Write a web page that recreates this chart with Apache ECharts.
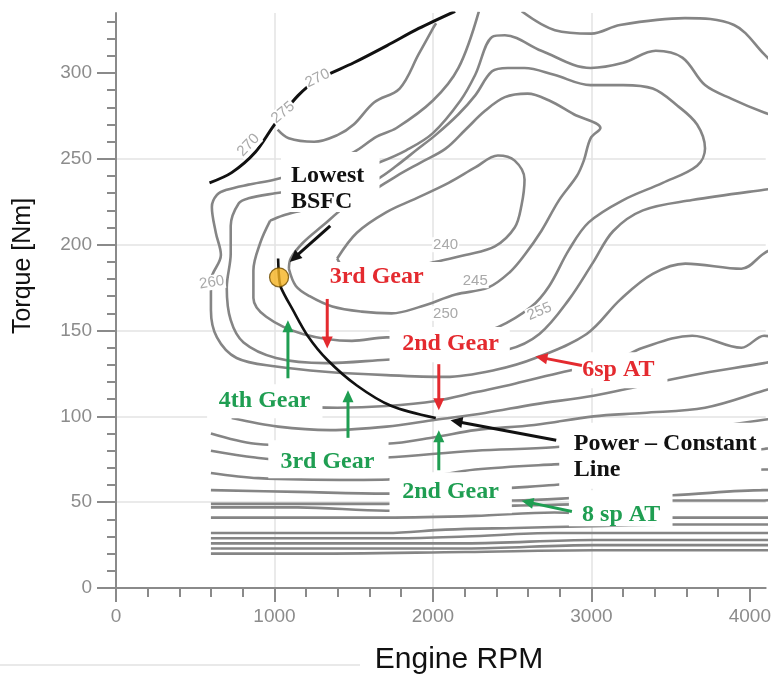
<!DOCTYPE html>
<html><head><meta charset="utf-8">
<script src="https://cdn.jsdelivr.net/npm/echarts@6/dist/echarts.min.js"></script>
<style>html,body{margin:0;padding:0;background:#fff}#c{width:774px;height:677px}</style>
</head><body><div id="c"></div>
<script>
// ---- axis ticks ----
const rpmTicks = [0, 1000, 2000, 3000, 4000];
const rpmMinorTicks = [0,200,400,600,800,1000,1200,1400,1600,1800,2000,2200,2400,2600,2800,3000,3200,3400,3600,3800,4000];
const torqueTicks = [0, 50, 100, 150, 200, 250, 300];
const torqueMinorTicks = [0,10,20,30,40,50,60,70,80,90,100,110,120,130,140,150,160,170,180,190,200,210,220,230,240,250,260,270,280,290,300,310,320,330];

// ---- full load (WOT) curve [rpm, Nm] ----
const fullLoadCurve = [[590,236],[730,242],[880,254],[1000,270],[1150,287],[1270,296],[1500,306],[1710,316],[1910,326],[2140,336]];

// ---- BSFC iso-lines [rpm, Nm] ----
const contourTop = [[2560,336],[2770,325],[3000,323],[3180,328],[3590,332],[3900,328],[4090,311],[4200,300]];
const contour275 = [[1020,267],[1090,262],[1250,260],[1400,264],[1500,270],[1630,283],[1790,291],[1910,311],[2000,326],[2020,329]];
const contour260 = [[2290,336],[2161,303],[2000,284],[1770,268],[1645,263],[1501,254],[1333,248],[1147,242],[1004,238],[836,235],[699,232],[637,229],[605,222],[630,207],[662,194],[599,179],[599,162],[637,146],[761,134],[1010,129],[1321,126],[1707,124],[2080,123],[2391,127],[2647,134],[2970,148],[3182,168],[3387,183],[3593,189],[3947,186],[4090,195],[4196,200]];
const contour255 = [[4196,274],[4090,277],[3885,285],[3717,293],[3574,309],[3406,313],[3201,306],[2995,303],[2684,313],[2454,322],[2373,321],[2267,299],[2174,284],[2000,265],[1831,255],[1663,248],[1396,239],[1147,232],[1004,230],[836,227],[774,224],[724,211],[724,195],[699,175],[724,156],[805,143],[1010,134],[1321,131],[1707,133],[2080,135],[2473,139],[2672,148],[2858,168],[3013,190],[3138,208],[3325,220],[3636,226],[4090,232],[4196,233]];
const contour250 = [[973,214],[910,201],[867,185],[867,169],[948,158],[1178,148],[1489,144],[1707,146],[2018,146],[2205,147],[2410,152],[2622,164],[2734,176],[2858,197],[2983,213],[3201,226],[3450,236],[3667,246],[3717,256],[3667,270],[3543,281],[3387,291],[3201,293],[2995,293],[2765,299],[2578,303],[2473,303],[2373,301],[2267,287],[2161,276],[2018,264],[1894,255],[1770,246],[1663,239],[1458,229],[1209,221],[1054,217],[973,214]];
const contour245 = [[1091,186],[1135,176],[1222,170],[1365,164],[1551,161],[1739,160],[1925,164],[2143,171],[2348,175],[2485,184],[2578,194],[2684,208],[2796,226],[2908,240],[2952,249],[2995,262],[3057,268],[2889,276],[2734,284],[2597,288],[2454,286],[2329,278],[2205,267],[2080,256],[1925,248],[1770,240],[1614,231],[1458,223],[1303,211],[1178,201],[1103,192],[1091,186]];
const contour240 = [[1396,192],[1520,207],[1707,219],[1894,227],[2099,236],[2267,245],[2410,252],[2516,249],[2578,238],[2559,223],[2516,210],[2391,199],[2205,194],[2018,190],[1770,185],[1551,184],[1427,188],[1396,192]];
const lowLoad1 = [[680,108],[1396,105],[1707,106],[2018,109],[2267,114],[2516,119],[2827,126],[3138,132],[3325,140],[3636,147],[3947,140],[4090,147],[4196,144]];
const lowLoad2 = [[730,99],[1023,94],[1352,92],[1707,94],[2018,98],[2329,102],[2640,107],[3013,112],[3325,118],[3636,124],[4090,131],[4196,133]];
const lowLoad3 = [[599,90],[879,84],[1147,83],[1707,84],[2018,88],[2267,92],[2640,95],[3013,100],[3325,102],[3717,105],[4090,115],[4196,118]];
const lowLoad4 = [[599,80],[879,76],[1147,74],[1707,76],[2267,80],[2765,82],[3138,86],[3636,92],[4090,98],[4196,99]];
const lowLoad5 = [[599,67],[898,64],[1501,63],[1894,64],[2267,69],[2765,72],[3263,74],[3636,77],[4090,81],[4196,83]];
const lowLoad6 = [[599,57],[1147,56],[1707,55],[2267,57],[2765,60],[3263,63],[3636,66],[4090,69],[4196,69]];
const lowLoad7 = [[599,49],[1147,49],[1707,49],[2018,51],[2516,51],[3013,53],[3512,54],[4090,57],[4196,57]];
const lowLoad8 = [[599,47],[1147,47],[1707,45],[2080,47],[2516,48],[3013,49],[3512,51],[4090,51],[4196,52]];
const lowLoad9 = [[599,41],[1147,41],[1707,41],[2267,42],[2765,44],[3512,41],[4090,41],[4196,41]];
const lowLoad10 = [[599,32],[1147,32],[1707,32],[2080,34],[2516,35],[3013,36],[3512,37],[4090,37],[4196,37]];
const lowLoad11 = [[599,29],[1147,29],[1770,29],[2205,30],[2765,32],[3512,32],[4090,32],[4196,32]];
const lowLoad12 = [[599,26],[1147,26],[1770,26],[2205,26],[3013,28],[4090,28],[4196,28]];
const lowLoad13 = [[599,23],[1147,23],[2205,23],[3013,25],[4090,25],[4196,25]];
const lowLoad14 = [[599,20],[1147,20],[2205,21],[3013,22],[4090,22],[4196,22]];

// ---- operating points / annotations ----
const lowestPoint = [[1029,181]];
const powerConstantLine = [[1023,192],[1029,181],[1041,175],[1116,162],[1209,147],[1333,133],[1520,118],[1739,106],[2018,99]];

const contourLabels = [['270',1272,297,0.45],['275',1054,277,0.7],['270',836,258,0.8],['260',605,178,0.15],['240',2080,200,0],['245',2267,179,0],['250',2080,160,0],['255',2672,161,0.4]];
const noteBoxes = [[1041,254,1663,219],[1303,190,2111,172],[1726,152,2485,131.5],[2877,137.4,3480,116.4],[575,118.7,1303,98.9],[961,86.1,1720,63.9],[1726,67.4,2498,43.5],[2858,57,3512,36],[2797,96.3,4072,57.8]];
const noteTexts = [['Lowest',1104,240.4,'k','left'],['BSFC',1104,225,'k','left'],['3rd Gear',1645,181.5,'r','center'],['2nd Gear',2111,142,'r','center'],['6sp AT',3170,126.9,'r','center'],['4th Gear',937,108.8,'g','center'],['3rd Gear',1334,73.8,'g','center'],['2nd Gear',2111,55.8,'g','center'],['8 sp AT',3188,42.9,'g','center'],['Power – Constant',2889,84.3,'k','left'],['Line',2889,68.6,'k','left']];
const noteArrows = [[1352,211,1097,190,'k'],[1333,168.4,1333,139.6,'r'],[2037,130.4,2037,103.5,'r'],[2940,129.6,2647,134.9,'r'],[1085,122.2,1085,156,'g'],[1464,87.5,1464,115.2,'g'],[2037,68.6,2037,91.9,'g'],[2877,44.6,2559,50.8,'g'],[2778,86.1,2111,97.7,'k']];

const COLORS = {k:'#111111', r:'#e42a2f', g:'#1f9e52'};
const contourSet = [contourTop, contour275, contour260, contour255, contour250, contour245, contour240,
  lowLoad1, lowLoad2, lowLoad3, lowLoad4, lowLoad5, lowLoad6, lowLoad7, lowLoad8, lowLoad9, lowLoad10, lowLoad11, lowLoad12, lowLoad13, lowLoad14];

const axisGray = '#8a8a8a';
const chart = echarts.init(document.getElementById('c'), null, {renderer:'canvas'});

const series = contourSet.map(d => ({
  type:'line', data:d, showSymbol:false, smooth:0.35, silent:true,
  lineStyle:{color:'#858585', width:2.6}, z:2
}));
series.push({type:'line', data:fullLoadCurve, showSymbol:false, smooth:0.3, lineStyle:{color:'#111', width:3}, z:3});
series.push({type:'line', data:powerConstantLine, showSymbol:false, smooth:0.3, lineStyle:{color:'#111', width:2.6}, z:20});
series.push({type:'scatter', data:lowestPoint, symbolSize:19, itemStyle:{color:'#f5b321', borderColor:'#6b4a00', borderWidth:1.3}, z:21});

const plainNum = v => String(v);

chart.setOption({
  animation:false,
  backgroundColor:'#fff',
  grid:{left:116, right:0, top:13, bottom:89, containLabel:false},
  xAxis:[{
    type:'value', min:0, max:4100, interval:1000,
    axisLine:{show:true, onZero:false, lineStyle:{color:axisGray, width:2}},
    axisTick:{show:true, length:14, customValues:rpmTicks, lineStyle:{color:axisGray, width:2}},
    axisLabel:{customValues:rpmTicks, formatter:plainNum, color:'#8c8c8c', fontSize:19, margin:19, fontFamily:'Liberation Sans'},
    splitLine:{show:true, showMinLine:false, showMaxLine:false, lineStyle:{color:'#e3e3e3', width:1.5}}
  },{
    type:'value', min:0, max:4100, position:'bottom',
    axisLine:{show:false},
    axisTick:{show:true, length:9, customValues:rpmMinorTicks, lineStyle:{color:axisGray, width:2}},
    axisLabel:{show:false}, splitLine:{show:false}
  }],
  yAxis:[{
    type:'value', min:0, max:335, interval:50,
    axisLine:{show:true, onZero:false, lineStyle:{color:axisGray, width:2}},
    axisTick:{show:true, length:19, customValues:torqueTicks, lineStyle:{color:axisGray, width:2}},
    axisLabel:{customValues:torqueTicks, formatter:plainNum, color:'#8c8c8c', fontSize:19, margin:24, fontFamily:'Liberation Sans'},
    splitLine:{show:true, showMinLine:false, showMaxLine:false, lineStyle:{color:'#e3e3e3', width:1.5}}
  },{
    type:'value', min:0, max:335, position:'left',
    axisLine:{show:false},
    axisTick:{show:true, length:9, customValues:torqueMinorTicks, lineStyle:{color:axisGray, width:2}},
    axisLabel:{show:false}, splitLine:{show:false}
  }],
  series: series
});

const toPx = (x, y) => chart.convertToPixel({xAxisIndex:0, yAxisIndex:0}, [x, y]);
const graphics = [];

noteBoxes.forEach(b => {
  const p1 = toPx(b[0], b[1]), p2 = toPx(b[2], b[3]);
  graphics.push({type:'rect', z:10, silent:true,
    shape:{x:Math.min(p1[0],p2[0]), y:Math.min(p1[1],p2[1]), width:Math.abs(p2[0]-p1[0]), height:Math.abs(p2[1]-p1[1])},
    style:{fill:'#ffffff'}});
});

contourLabels.forEach(l => {
  const p = toPx(l[1], l[2]);
  graphics.push({type:'text', z:11, silent:true, x:p[0], y:p[1], rotation:l[3],
    style:{text:l[0], x:0, y:0, fill:'#a9a9a9', font:'15px "Liberation Sans"', align:'center', verticalAlign:'middle', backgroundColor:'#fff', padding:[0,1]}});
});

noteTexts.forEach(t => {
  const p = toPx(t[1], t[2]);
  graphics.push({type:'text', z:12, silent:true,
    style:{text:t[0], x:p[0], y:p[1], fill:COLORS[t[3]], font:'bold 24px "Liberation Serif"', align:t[4], verticalAlign:'middle'}});
});

noteArrows.forEach(a => {
  const p0 = toPx(a[0], a[1]), p1 = toPx(a[2], a[3]);
  const dx = p1[0]-p0[0], dy = p1[1]-p0[1];
  const len = Math.sqrt(dx*dx+dy*dy), ux = dx/len, uy = dy/len;
  const headL = 12, headW = 5.5;
  const bx = p1[0]-ux*headL, by = p1[1]-uy*headL;
  const col = COLORS[a[4]];
  graphics.push({type:'line', z:13, silent:true, shape:{x1:p0[0], y1:p0[1], x2:bx+ux*2, y2:by+uy*2}, style:{stroke:col, lineWidth:3}});
  graphics.push({type:'polygon', z:13, silent:true, shape:{points:[[p1[0],p1[1]],[bx-uy*headW,by+ux*headW],[bx+uy*headW,by-ux*headW]]}, style:{fill:col}});
});

// axis titles and faint separator
graphics.push({type:'text', z:12, silent:true, x:23, y:266, rotation:Math.PI/2,
  style:{text:'Torque [Nm]', x:0, y:0, fill:'#111', font:'25px "Liberation Sans"', align:'center', verticalAlign:'middle'}});
graphics.push({type:'text', z:12, silent:true,
  style:{text:'Engine RPM', x:459, y:660, fill:'#111', font:'30px "Liberation Sans"', align:'center', verticalAlign:'middle'}});
graphics.push({type:'line', z:1, silent:true, shape:{x1:0, y1:665, x2:360, y2:665}, style:{stroke:'#e2e2e2', lineWidth:1.5}});

chart.setOption({graphic: graphics});
</script>
</body></html>
